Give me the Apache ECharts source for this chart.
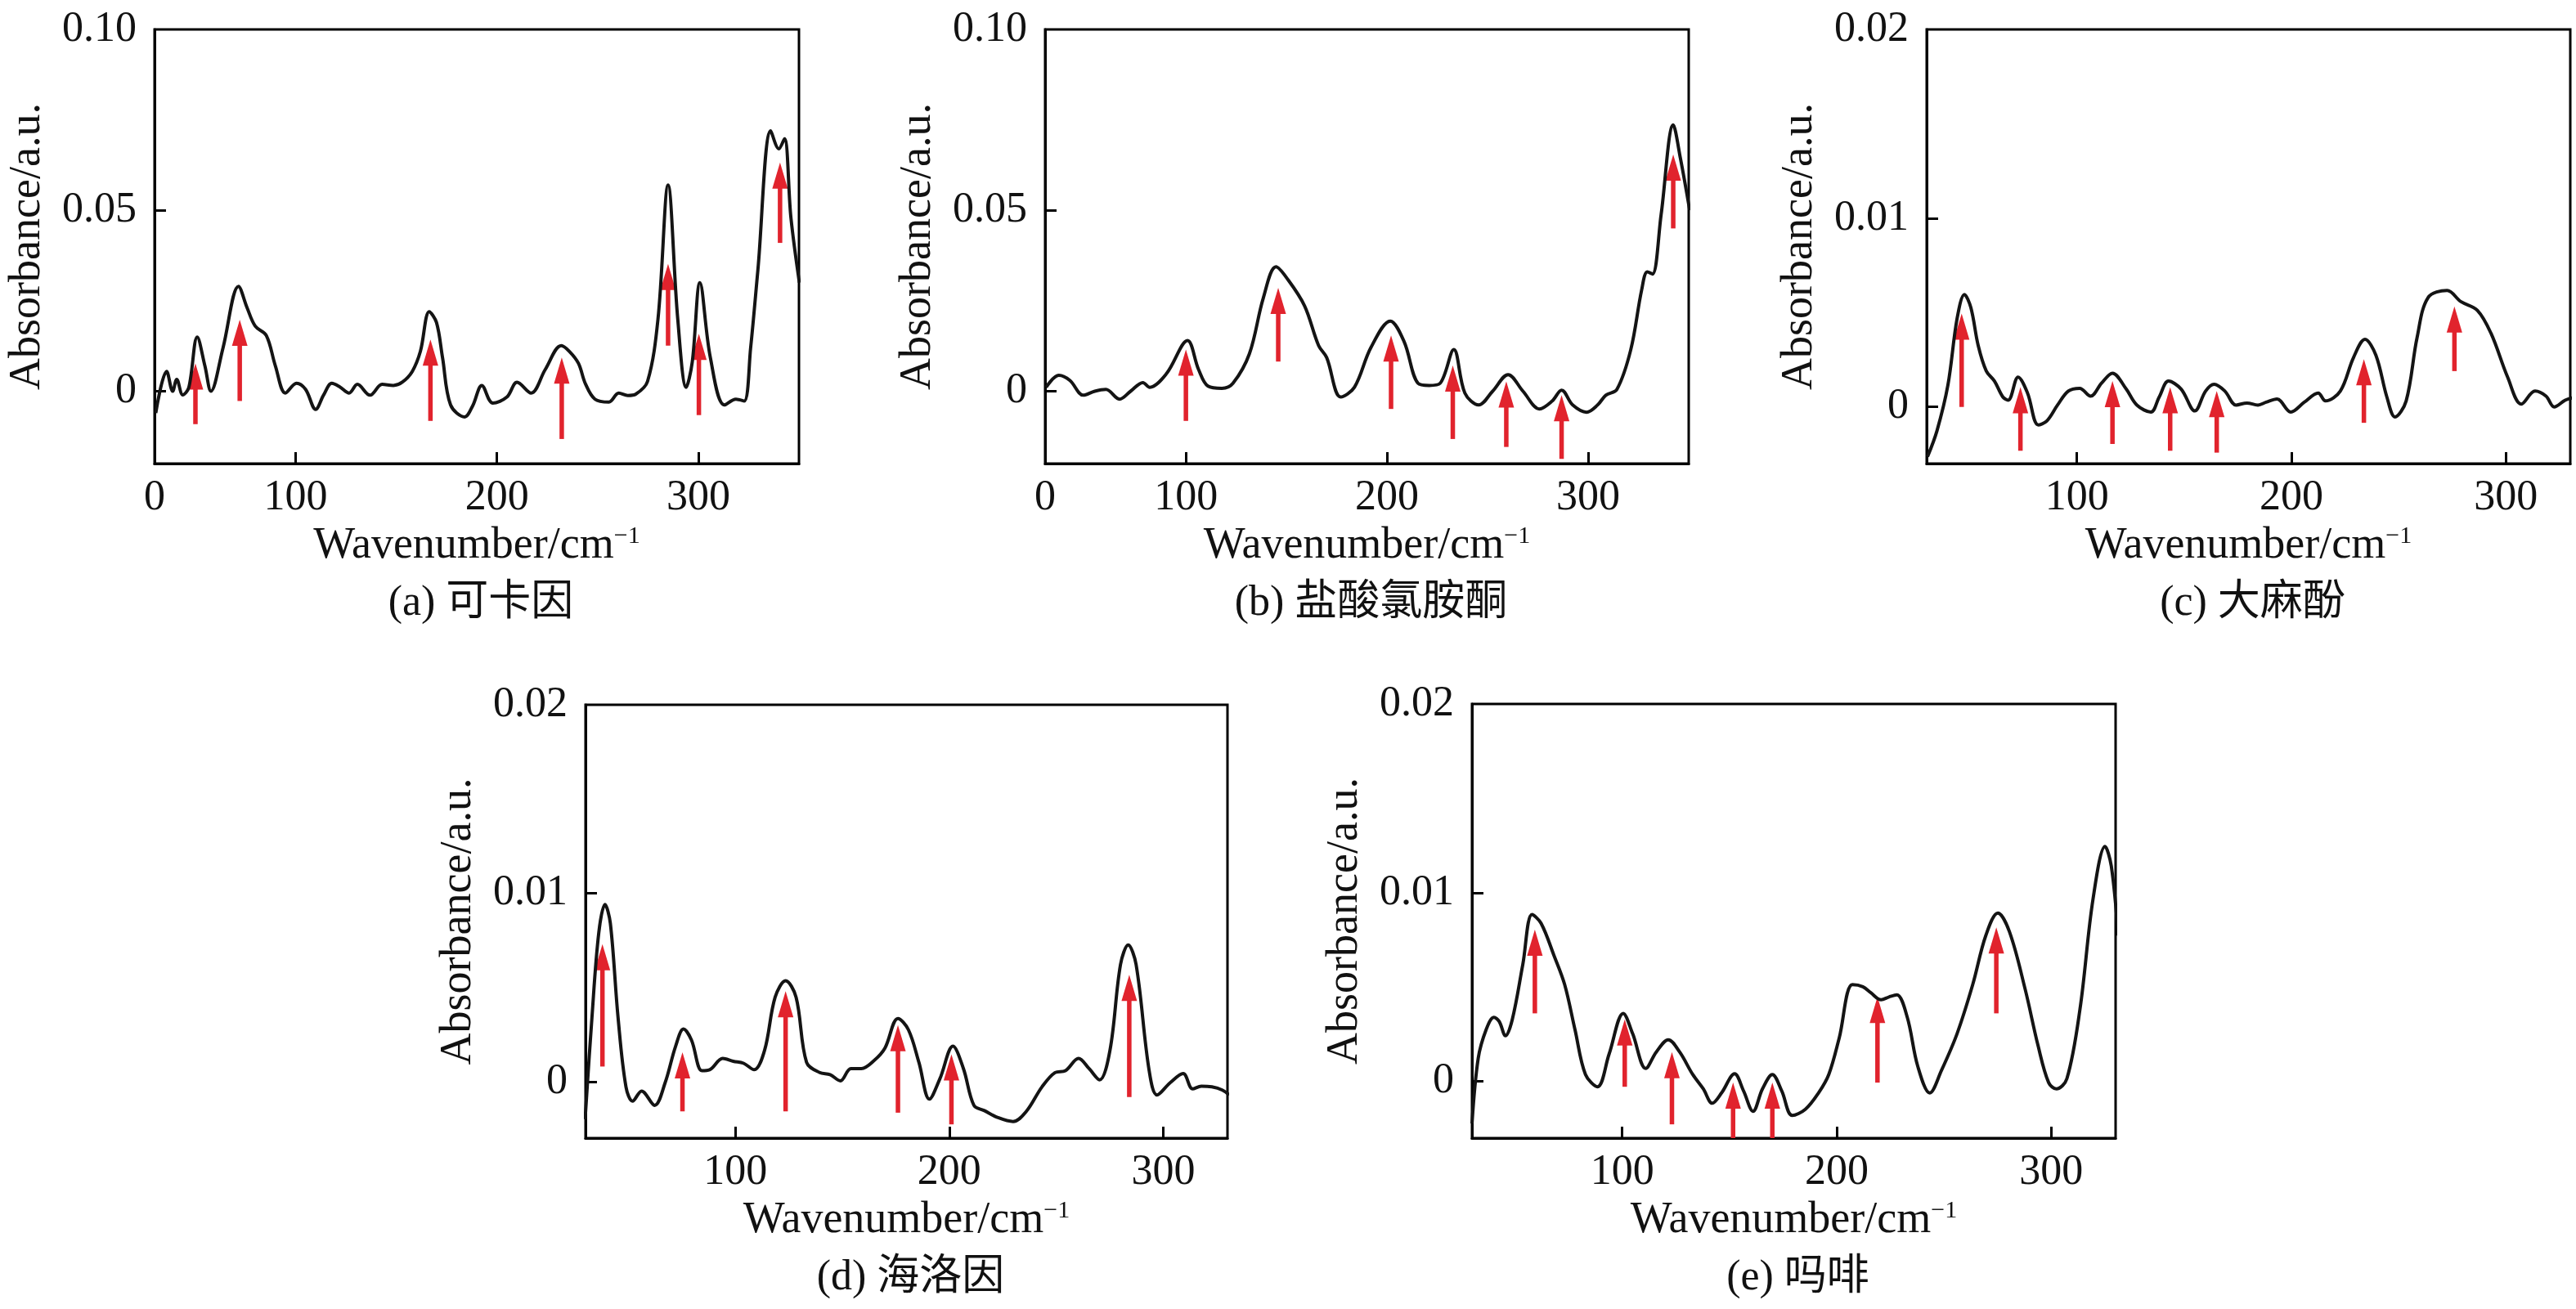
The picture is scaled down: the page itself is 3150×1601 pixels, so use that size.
<!DOCTYPE html>
<html>
<head>
<meta charset="utf-8">
<script src="https://cdn.jsdelivr.net/npm/echarts@6/dist/echarts.min.js"></script>
<style>
html,body{margin:0;padding:0;background:#fff;}
#chart{width:3150px;height:1601px;}
</style>
</head>
<body>
<div id="chart"></div>
<script>
// ---------------- DATA ----------------
// (a) 可卡因
const wavenumberA = [30.6,36,39,41,44,47,51.2,55,58,64,71.7,76,80,85.5,90,95,100.5,105,110,114,118,122,126.6,130.7,137,143,148.6,153,158,162,166.4,170,173,177,184,188,192.5,198,205,210,217,224,232,236,240.5,244,248.7,255.6,260.5,265,269,274.8,280,285,289.8,294,297,300.8,306,313,318.7,322.8,326,329.6,336,340,342.8,346,350.2];
const absorbanceA = [-0.006,0.0055,0,0.0033,-0.001,0.001,0.015,0.007,0,0.012,0.029,0.023,0.018,0.0154,0.007,-0.0005,0.0022,0.0005,-0.005,-0.001,0.0022,0.0012,-0.0005,0.0019,-0.0011,0.0019,0.0016,0.0025,0.0055,0.011,0.022,0.019,0.0093,-0.0038,-0.0071,-0.004,0.0016,-0.0033,-0.0016,0.0025,-0.0005,0.006,0.0126,0.011,0.0077,0.002,-0.0022,-0.003,-0.0005,-0.0012,-0.0008,0.0027,0.02,0.057,0.02,0.0011,0.008,0.030,0.0093,-0.0038,-0.0022,-0.0027,0.012,0.0335,0.072,0.067,0.0698,0.048,0.030];
const arrowXA    = [50.3,72.3,167,232.2,285,300.3,340.6];
const arrowTipA  = [0.0077,0.0198,0.0143,0.0093,0.0352,0.0159,0.0632];
const arrowTailA = [-0.0091,-0.0027,-0.0082,-0.0132,0.0126,-0.0066,0.041];

// (b) 盐酸氯胺酮
const wavenumberB = [30.5,36.8,42.3,49,54.7,60.2,67,72.5,78.6,82,90.4,100.8,106.3,111,117.9,123.4,131.6,138.5,144.8,150.8,159,166,170,177,183.8,192,201.6,208.5,215.4,221,226.4,233.2,238.7,245.6,252.5,260.2,267.6,275.8,282.1,286.8,292.3,299.2,304.7,308.8,314.3,321.2,326.6,329.4,332,336.3,342.3,345.9,350.5];
const absorbanceB = [0.0011,0.0044,0.003,-0.0011,0,0.0005,-0.0022,0,0.0024,0.0011,0.0049,0.014,0.006,0.0014,0.0008,0.0022,0.0104,0.0258,0.0344,0.0308,0.0236,0.0126,0.0093,-0.0016,0.0011,0.0121,0.0194,0.0137,0.0022,0.0016,0.0022,0.0115,-0.0005,-0.0038,0,0.0046,0,-0.0049,-0.0027,0.0003,-0.0038,-0.0058,-0.0038,-0.0011,0.0005,0.0115,0.028,0.033,0.0324,0.0489,0.0736,0.0643,0.05];
const arrowXB    = [100,145.9,202,232.7,259.3,286.8,342.3];
const arrowTipB  = [0.0115,0.0286,0.0154,0.0071,0.0027,-0.0011,0.0654];
const arrowTailB = [-0.0082,0.0082,-0.0049,-0.0132,-0.0154,-0.0187,0.045];

// (c) 大麻酚
const wavenumberC = [30.4,34.8,39.9,44.2,47.6,50.6,54,57.8,61.6,65.5,68,72.6,77,82,86,91,96,101.3,106.4,111.5,116.6,123,128,134.5,138.4,142.7,148.6,155,160,164,169,174.2,179.3,184.4,188.2,193.3,199.7,206,212.5,215.9,222.8,229,234.3,239.4,244.5,248.3,253.5,258.6,263.7,272.6,279,286.7,293.1,300.8,307.2,313.6,318.7,322.5,327.6,330.9];
const absorbanceC = [-0.00263,-0.00126,0.00116,0.0047,0.00596,0.00526,0.00326,0.0019,0.00137,0.00053,0.00036,0.00158,0.00074,-0.00095,-0.00074,0.0001,0.00084,0.00099,0.00057,0.00126,0.00179,0.00095,0.0001,-0.00027,0.00053,0.00137,0.00095,-0.00021,0.00084,0.0012,0.00084,0.0001,0.00021,0.0001,0.00025,0.00042,-0.00027,0.00025,0.00074,0.00032,0.00084,0.00263,0.00358,0.00274,0.00053,-0.00053,0.00032,0.00368,0.00579,0.00617,0.00558,0.00512,0.00389,0.00158,0.00015,0.00084,0.00057,0,0.00036,0.00048];
const arrowXC    = [46.3,73.7,116.6,143.5,165.2,233.8,276];
const arrowTipC  = [0.00495,0.00105,0.00137,0.00105,0.00084,0.00253,0.00533];
const arrowTailC = [0,-0.00232,-0.00196,-0.00232,-0.00242,-0.00084,0.0019];

// (d) 海洛因
const wavenumberD = [29.8,33,36.2,39.1,41.6,45.2,48.9,52,56.2,62.3,67.2,72.1,75.8,79.5,84.4,88,94.1,99,103.9,108.8,113.7,118.6,123.5,128.4,133.3,139.4,144.3,149.1,154,158.9,165,169.9,176,180.9,185.8,190.7,195.6,201.7,206.6,211.5,216.4,222.5,229.8,236,243.3,249.4,254.3,260.4,265.3,270.2,275.1,280,283.6,287.3,293.4,297.1,303.2,309.3,313.7,317.8,322.7,327.6,330.8];
const absorbanceD = [-0.002,0.0034,0.0079,0.0094,0.0084,0.0034,-0.00028,-0.00104,-0.0005,-0.00126,-0.00006,0.00188,0.00279,0.00221,0.00058,0.00063,0.00123,0.00108,0.00097,0.00063,0.00167,0.00448,0.00535,0.00448,0.00102,0.00048,0.00037,0.00004,0.00069,0.00069,0.00113,0.00177,0.00335,0.00275,0.00102,-0.00093,0.00015,0.00188,0.00069,-0.00126,-0.00154,-0.0019,-0.00212,-0.00158,-0.00028,0.00048,0.00058,0.00123,0.00069,0.00009,0.00167,0.00621,0.00725,0.00621,0.00058,-0.00071,-0.00006,0.00043,-0.00039,-0.00024,-0.00028,-0.00045,-0.00071];
const arrowXD    = [37.9,75.3,123.5,176,201,284.1];
const arrowTipD  = [0.0073,0.00156,0.0048,0.003,0.00145,0.00567];
const arrowTailD = [0.0008,-0.00158,-0.00158,-0.00165,-0.00227,-0.00082];

// (e) 吗啡
const wavenumberE = [30,32.9,36.6,40.2,42.7,45.6,48.8,53.7,58,62.2,68.3,73.2,78,82.9,88.5,93.9,100.5,104.9,111,115.9,121.5,126.8,132.9,137.8,142,146.3,152.4,156.6,161,165.4,170,174.4,179.3,185.4,191.5,196.3,201.2,207.3,212.2,215.9,220.7,224.4,228,232.9,237.8,243.4,248.8,256.1,263.4,269.5,275.1,280.5,287.8,293.9,298.8,302.4,307.3,313.4,319.5,325.1,328,331.2];
const absorbanceE = [-0.00223,0.00123,0.00275,0.0034,0.00318,0.00242,0.00329,0.00621,0.00885,0.00838,0.00665,0.00513,0.00275,0.00037,-0.00028,0.00145,0.00361,0.00253,0.00069,0.00156,0.00221,0.00156,0.00037,-0.00039,-0.00115,-0.00061,0.00041,-0.0005,-0.00158,-0.00039,0.00037,-0.0005,-0.0018,-0.00147,-0.00061,0.00037,0.00232,0.00513,0.00502,0.0047,0.00433,0.00448,0.00459,0.0034,0.0008,-0.00061,0.00058,0.00253,0.00513,0.00773,0.00892,0.00794,0.00491,0.00188,-0.00006,-0.00039,0.00015,0.00383,0.00968,0.01245,0.01141,0.00773];
const arrowXE    = [59.3,101.2,123.2,151.7,170,219,274.4];
const arrowTipE  = [0.00805,0.00329,0.00156,-0.00006,-0.00006,0.00448,0.00816];
const arrowTailE = [0.00361,-0.00028,-0.00227,-0.00305,-0.00305,-0.00006,0.00361];

// tick labels
const xTickPosAB = [30,100,200,300];
const xTickLabelsAB = ['0','100','200','300'];
const xTickPosCDE = [100,200,300];
const xTickLabelsCDE = ['100','200','300'];
const yTickPosAB = [0,0.05,0.10];
const yTickLabelsAB = ['0','0.05','0.10'];
const yTickPosCDE = [0,0.01,0.02];
const yTickLabelsCDE = ['0','0.01','0.02'];

const captions = ['(a) 可卡因','(b) 盐酸氯胺酮','(c) 大麻酚','(d) 海洛因','(e) 吗啡'];
const xName = 'Wavenumber/cm';
const xNameSup = '−1';
const yName = 'Absorbance/a.u.';

// ---------------- LAYOUT ----------------
const FONT = '"Liberation Serif", "Times New Roman", "Noto Sans CJK SC", serif';
const RED = '#e1232d';
const panels = [
  {grid:{left:189,top:36,width:788,height:531}, xr:[30,350], yr:[-0.02,0.10], xt:xTickPosAB, xl:xTickLabelsAB, yt:yTickPosAB, yl:yTickLabelsAB, wx:wavenumberA, wy:absorbanceA, ax:arrowXA, at:arrowTipA, al:arrowTailA},
  {grid:{left:1278,top:36,width:787,height:531}, xr:[30,350], yr:[-0.02,0.10], xt:xTickPosAB, xl:xTickLabelsAB, yt:yTickPosAB, yl:yTickLabelsAB, wx:wavenumberB, wy:absorbanceB, ax:arrowXB, at:arrowTipB, al:arrowTailB},
  {grid:{left:2356,top:36,width:787,height:531}, xr:[30,330], yr:[-0.003,0.02], xt:xTickPosCDE, xl:xTickLabelsCDE, yt:yTickPosCDE, yl:yTickLabelsCDE, wx:wavenumberC, wy:absorbanceC, ax:arrowXC, at:arrowTipC, al:arrowTailC},
  {grid:{left:716,top:862,width:785,height:530}, xr:[30,330], yr:[-0.003,0.02], xt:xTickPosCDE, xl:xTickLabelsCDE, yt:yTickPosCDE, yl:yTickLabelsCDE, wx:wavenumberD, wy:absorbanceD, ax:arrowXD, at:arrowTipD, al:arrowTailD},
  {grid:{left:1800,top:861,width:787,height:531}, xr:[30,330], yr:[-0.003,0.02], xt:xTickPosCDE, xl:xTickLabelsCDE, yt:yTickPosCDE, yl:yTickLabelsCDE, wx:wavenumberE, wy:absorbanceE, ax:arrowXE, at:arrowTipE, al:arrowTailE}
];

function renderArrow(params, api) {
  const x = api.value(0), tip = api.value(1), tail = api.value(2);
  const pTip = api.coord([x, tip]);
  const pTail = api.coord([x, tail]);
  const headLen = 32, headW = 19;
  return {
    type: 'group',
    children: [
      {type:'line', shape:{x1:pTail[0], y1:pTail[1], x2:pTip[0], y2:pTip[1] + headLen - 3}, style:{stroke:RED, lineWidth:5.5}},
      {type:'polygon', shape:{points:[[pTip[0], pTip[1]], [pTip[0] - headW/2, pTip[1] + headLen], [pTip[0] + headW/2, pTip[1] + headLen]]}, style:{fill:RED}}
    ]
  };
}

const option = {
  backgroundColor: '#fff',
  animation: false,
  title: [], grid: [], xAxis: [], yAxis: [], series: []
};

panels.forEach((p, i) => {
  option.grid.push(Object.assign({show:true, borderColor:'#000', borderWidth:3, backgroundColor:'transparent', containLabel:false}, p.grid));
  option.title.push({
    text: captions[i],
    left: p.grid.left + p.grid.width/2,
    top: p.grid.top + p.grid.height + 140,
    textAlign: 'center',
    textStyle: {fontFamily: FONT, fontSize: 52, fontWeight: 'normal', color: '#111'}
  });
  option.xAxis.push({
    type: 'value', gridIndex: i, min: p.xr[0], max: p.xr[1], position: 'bottom',
    name: '{m|' + xName + '}{s|' + xNameSup + '}',
    nameLocation: 'middle', nameGap: 74,
    nameTextStyle: {
      fontFamily: FONT, color: '#111',
      rich: {
        m: {fontFamily: FONT, fontSize: 54, color: '#111', lineHeight: 54, verticalAlign: 'bottom'},
        s: {fontFamily: FONT, fontSize: 30, color: '#111', lineHeight: 54, verticalAlign: 'top'}
      }
    },
    axisLine: {show: true, onZero: false, lineStyle: {color: '#000', width: 3}},
    splitLine: {show: false},
    axisTick: {show: true, inside: true, length: 14, customValues: [100,200,300], lineStyle: {color:'#000', width: 3}},
    axisLabel: {
      customValues: p.xt, margin: 16,
      fontFamily: FONT, fontSize: 52, color: '#111',
      formatter: (v) => { const k = p.xt.findIndex(t => Math.abs(t - v) < 1e-9); return k >= 0 ? p.xl[k] : ''; }
    }
  });
  option.yAxis.push({
    type: 'value', gridIndex: i, min: p.yr[0], max: p.yr[1], position: 'left',
    name: yName, nameLocation: 'middle', nameGap: 128,
    nameTextStyle: {fontFamily: FONT, fontSize: 54, color: '#111'},
    axisLine: {show: true, onZero: false, lineStyle: {color: '#000', width: 3}},
    splitLine: {show: false},
    axisTick: {show: true, inside: true, length: 14, customValues: p.yt.slice(0, 2), lineStyle: {color:'#000', width: 3}},
    axisLabel: {
      customValues: p.yt, margin: 22,
      fontFamily: FONT, fontSize: 52, color: '#111',
      formatter: (v) => { const k = p.yt.findIndex(t => Math.abs(t - v) < 1e-12); return k >= 0 ? p.yl[k] : ''; }
    }
  });
  option.series.push({
    type: 'line', xAxisIndex: i, yAxisIndex: i,
    data: p.wx.map((x, k) => [x, p.wy[k]]),
    smooth: 0.35, showSymbol: false, symbol: 'none', clip: true,
    lineStyle: {color: '#141414', width: 4}
  });
  option.series.push({
    type: 'custom', xAxisIndex: i, yAxisIndex: i, clip: true,
    renderItem: renderArrow,
    data: p.ax.map((x, k) => [x, p.at[k], p.al[k]]),
    z: 3
  });
});

const chart = echarts.init(document.getElementById('chart'));
chart.setOption(option);
</script>
</body>
</html>
